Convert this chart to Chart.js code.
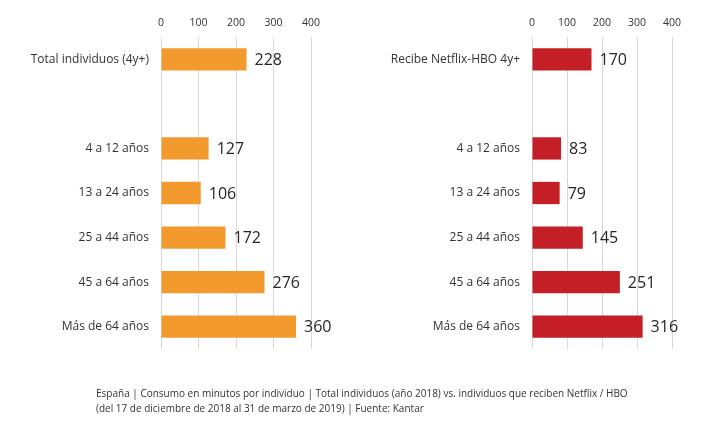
<!DOCTYPE html>
<html lang="es">
<head>
  <meta charset="UTF-8" />
  <title>Consumo TV</title>
  <script src="https://cdn.jsdelivr.net/npm/chart.js"></script>
  <style>
    body {
      margin: 0;
      background: #fff;
      font-family: 'Open Sans', sans-serif;
      width: 712px;
      height: 425px;
      position: relative;
      overflow: hidden;
    }
    .panel {
      position: absolute;
      top: 0;
      width: 356px;
      height: 425px;
    }
    #leftWrap { left: 0; }
    #rightWrap { left: 356px; }
    .caption {
      position: absolute;
      left: 96px;
      top: 386px;
      font-size: 10px;
      line-height: 15px;
      color: #333;
      white-space: nowrap;
    }
  </style>
</head>
<body>
  <div class="panel" id="leftWrap"><canvas id="leftChart" width="356" height="425"></canvas></div>
  <div class="panel" id="rightWrap"><canvas id="rightChart" width="356" height="425"></canvas></div>

  <div class="caption">
    España | Consumo en minutos por individuo | Total individuos (año 2018) vs. individuos que reciben Netflix / HBO<br>
    (del 17 de diciembre de 2018 al 31 de marzo de 2019) | Fuente: Kantar
  </div>

  <script>
    const leftLabels = ['Total individuos (4y+)', '', '4 a 12 años', '13 a 24 años', '25 a 44 años', '45 a 64 años', 'Más de 64 años'];
    const rightLabels = ['Recibe Netflix-HBO 4y+', '', '4 a 12 años', '13 a 24 años', '25 a 44 años', '45 a 64 años', 'Más de 64 años'];
    const totalValues = [228, null, 127, 106, 172, 276, 360];
    const netflixValues = [170, null, 83, 79, 145, 251, 316];
    const xTicks = [0, 100, 200, 300, 400];

    // value text next to each bar
    const valueLabels = {
      id: 'valueLabels',
      afterDatasetsDraw(chart) {
        const ctx = chart.ctx;
        const meta = chart.getDatasetMeta(0);
        ctx.save();
        ctx.font = '16px "Open Sans", sans-serif';
        ctx.fillStyle = '#262626';
        ctx.textBaseline = 'middle';
        meta.data.forEach((bar, i) => {
          const v = chart.data.datasets[0].data[i];
          if (v == null) return;
          ctx.fillText(String(v), bar.x + 8, bar.y + 1);
        });
        ctx.restore();
      }
    };

    function makeChart(id, labels, values, color, axisWidth, rightPad) {
      return new Chart(document.getElementById(id), {
        type: 'bar',
        data: {
          labels,
          datasets: [{
            data: values,
            backgroundColor: color,
            categoryPercentage: 1,
            barPercentage: 0.5
          }]
        },
        options: {
          indexAxis: 'y',
          responsive: false,
          animation: false,
          layout: { padding: { left: 0, right: rightPad, top: 0, bottom: 76 } },
          plugins: { legend: { display: false }, tooltip: { enabled: false } },
          scales: {
            x: {
              position: 'top',
              min: 0,
              max: 400,
              afterBuildTicks: scale => { scale.ticks = xTicks.map(v => ({ value: v })); },
              afterFit: scale => { scale.height = 37; },
              grid: { color: '#d9d9d9', drawTicks: false },
              border: { display: false },
              ticks: { color: '#333', padding: 8, font: { family: 'Open Sans', size: 10.5 } }
            },
            y: {
              afterFit: scale => { scale.width = axisWidth; },
              grid: { display: false, drawTicks: false },
              border: { display: false },
              ticks: { color: '#333', padding: 12, autoSkip: false, font: { family: 'Open Sans', size: 12 } }
            }
          }
        },
        plugins: [valueLabels]
      });
    }

    makeChart('leftChart', leftLabels, totalValues, '#f39a2e', 161, 45);
    makeChart('rightChart', rightLabels, netflixValues, '#c41e26', 176, 40);
  </script>
</body>
</html>
